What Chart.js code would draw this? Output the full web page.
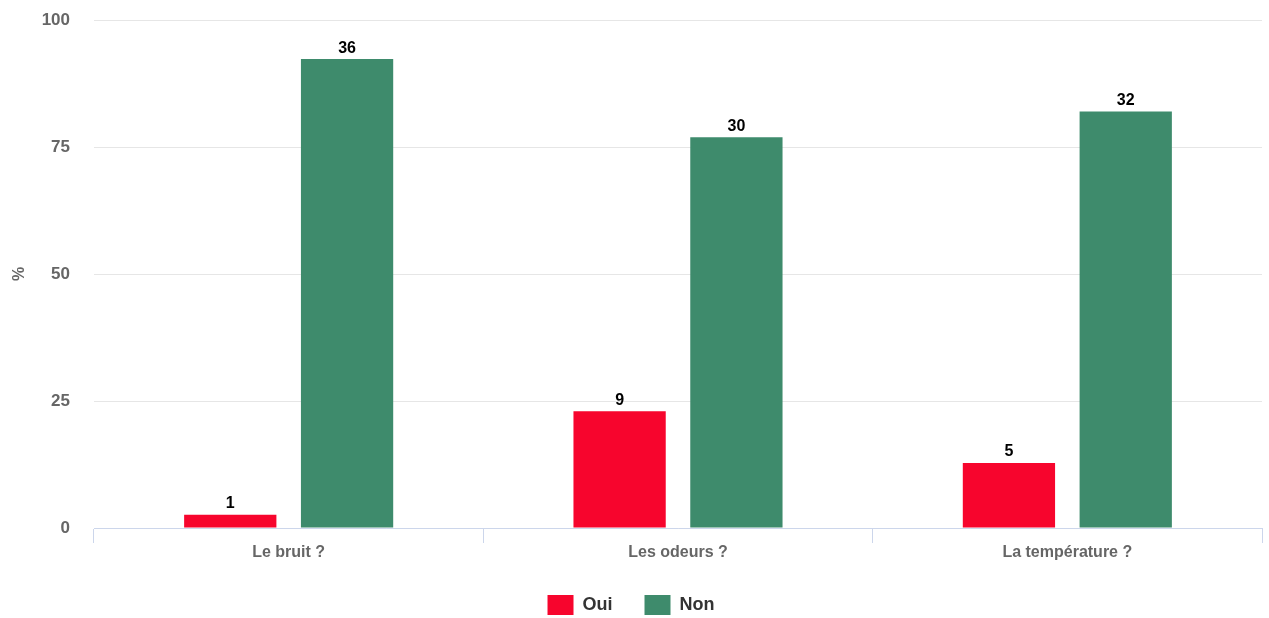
<!DOCTYPE html>
<html>
<head>
<meta charset="utf-8">
<script src="https://cdn.jsdelivr.net/npm/chart.js@4/dist/chart.umd.min.js"></script>
<style>
html,body{margin:0;padding:0;background:#fff;}
#wrap{position:relative;width:1269px;height:618px;}
</style>
</head>
<body>
<div id="wrap"><canvas id="c"></canvas></div>
<script>
const categories = ["Le bruit ?", "Les odeurs ?", "La température ?"];
const seriesNames = ["Oui", "Non"];
const ouiPct = [2.6, 23.0, 12.8];
const nonPct = [92.3, 76.9, 82.0];
const ouiCount = [1, 9, 5];
const nonCount = [36, 30, 32];
const yTicks = [0, 25, 50, 75, 100];

const FONT = "'Liberation Sans', Arial, sans-serif";

const dataLabels = {
  id: 'dataLabels',
  afterDatasetsDraw(chart) {
    const ctx = chart.ctx;
    ctx.save();
    ctx.font = "bold 16px " + FONT;
    ctx.fillStyle = '#000';
    ctx.textAlign = 'center';
    ctx.textBaseline = 'bottom';
    chart.data.datasets.forEach((ds, di) => {
      const meta = chart.getDatasetMeta(di);
      meta.data.forEach((bar, i) => {
        ctx.fillText(String(ds.counts[i]), bar.x, bar.y - 3);
      });
    });
    ctx.restore();
  }
};

new Chart(document.getElementById('c'), {
  type: 'bar',
  data: {
    labels: categories,
    datasets: [
      { label: seriesNames[0], data: ouiPct, counts: ouiCount, backgroundColor: '#f7052d',
        categoryPercentage: 0.6, barPercentage: 0.79 },
      { label: seriesNames[1], data: nonPct, counts: nonCount, backgroundColor: '#3e8b6c',
        categoryPercentage: 0.6, barPercentage: 0.79 }
    ]
  },
  options: {
    responsive: true,
    maintainAspectRatio: false,
    animation: false,
    layout: { padding: { top: 20, right: 7, left: 0, bottom: -7 } },
    plugins: {
      tooltip: { enabled: false },
      legend: {
        position: 'bottom',
        labels: {
          boxWidth: 26, boxHeight: 20, padding: 32,
          color: '#333',
          font: { family: FONT, size: 18, weight: 'bold' }
        }
      }
    },
    scales: {
      x: {
        offset: true,
        grid: { display: true, offset: true, drawOnChartArea: false, color: '#ccd6eb', tickLength: 15, tickColor: '#ccd6eb' },
        border: { display: true, color: '#ccd6eb', width: 1 },
        ticks: { color: '#666', padding: 0, font: { family: FONT, size: 16, weight: 'bold' } },
        afterFit(s) { s.height = 35; }
      },
      y: {
        min: 0, max: 100,
        afterBuildTicks(s) { s.ticks = yTicks.map(v => ({ value: v })); },
        grid: { color: '#e6e6e6', drawTicks: false },
        border: { display: false },
        ticks: { color: '#666', padding: 24, font: { family: FONT, size: 17, weight: 'bold' } },
        title: { display: true, text: '%', color: '#666', padding: { top: 10, bottom: 0 }, font: { family: FONT, size: 16, weight: 'bold' } },
        afterFit(s) { s.width = 94; s.paddingTop = 0; s.paddingBottom = 0; }
      }
    }
  },
  plugins: [dataLabels]
});
</script>
</body>
</html>
